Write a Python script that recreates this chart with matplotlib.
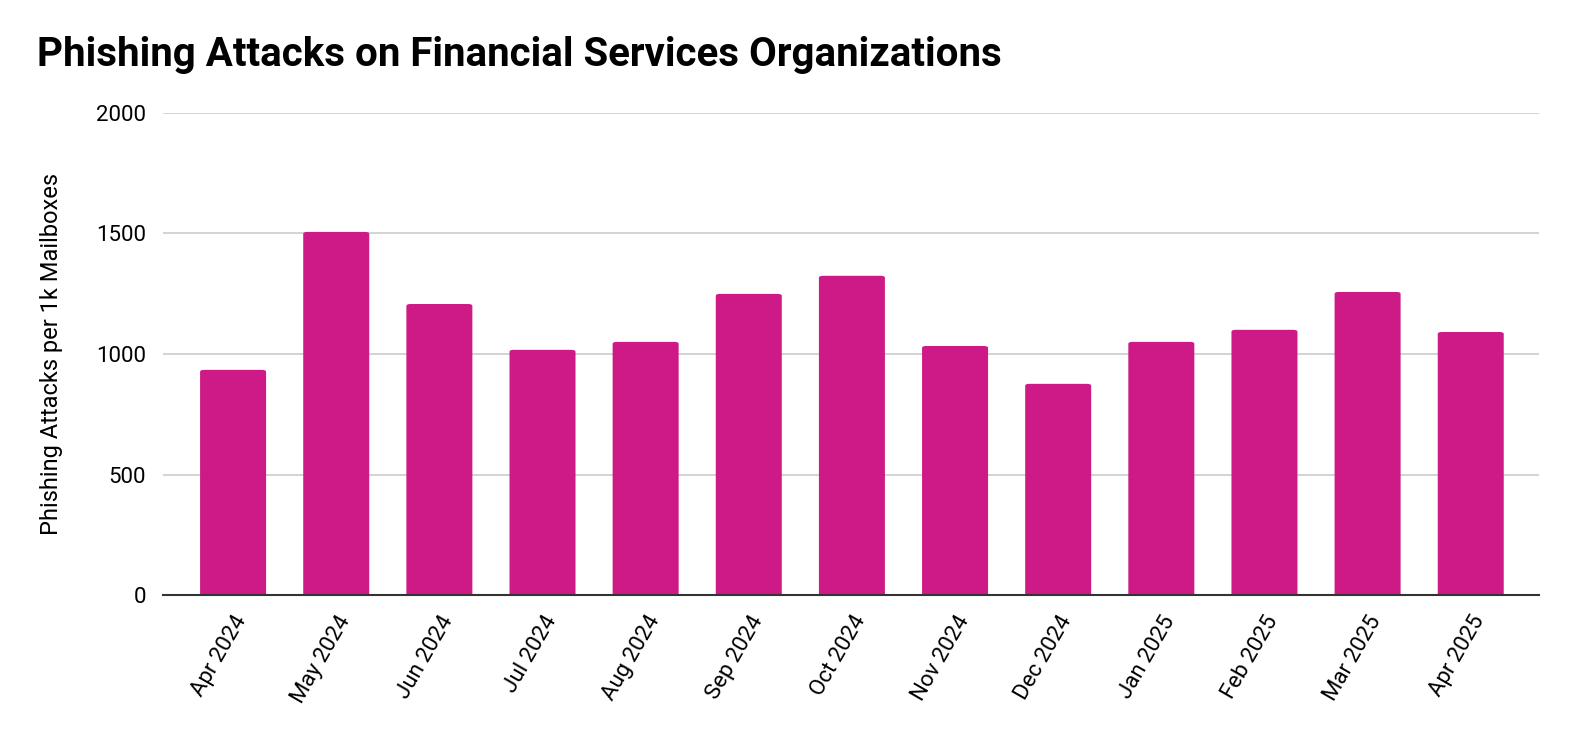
import matplotlib.pyplot as plt
from matplotlib.patches import FancyBboxPatch

# ------------------------------
# Data
# ------------------------------
months = ["Apr 2024", "May 2024", "Jun 2024", "Jul 2024", "Aug 2024", "Sep 2024",
          "Oct 2024", "Nov 2024", "Dec 2024", "Jan 2025", "Feb 2025", "Mar 2025",
          "Apr 2025"]
attacks = [934, 1506, 1207, 1017, 1050, 1249, 1324, 1033, 876, 1050, 1100, 1257, 1091]

BAR_COLOR = "#cd1a87"

plt.rcParams["font.family"] = ["Roboto", "DejaVu Sans"]

# ------------------------------
# Plot
# ------------------------------
fig = plt.figure(figsize=(15.76, 7.42), dpi=100)
ax = fig.add_axes([0.1034, 0.198, 0.873, 0.650])

x = list(range(len(months)))
bars = ax.bar(x, attacks, width=0.64, color=BAR_COLOR, zorder=3)

# slightly rounded tops
for b in bars:
    b.set_visible(False)
    patch = FancyBboxPatch((b.get_x(), -40), b.get_width(), b.get_height() + 40,
                           boxstyle="round,pad=0,rounding_size=0.04",
                           mutation_aspect=200, color=BAR_COLOR, zorder=3,
                           linewidth=0)
    ax.add_patch(patch)

ax.set_xlim(-0.68, len(months) - 1 + 0.66)
ax.set_ylim(0, 2000)
ax.set_yticks([0, 500, 1000, 1500, 2000])
ax.yaxis.grid(True, color="#cccccc", linewidth=1.2, zorder=0)
ax.set_axisbelow(True)

for s in ["top", "right", "left"]:
    ax.spines[s].set_visible(False)
ax.spines["bottom"].set_color("#333333")
ax.spines["bottom"].set_linewidth(1.5)
ax.spines["bottom"].set_zorder(4)

ax.set_xticks(x)
ax.set_xticklabels(months, rotation=60, ha="right", rotation_mode="anchor", fontsize=16)
ax.tick_params(axis="x", length=0, pad=12)
ax.tick_params(axis="y", length=0, pad=12, labelsize=16)

ax.set_ylabel("Phishing Attacks per 1k Mailboxes", fontsize=17, labelpad=24)

fig.text(0.0235, 1 - 55 / 742, "Phishing Attacks on Financial Services Organizations",
         fontsize=29, fontweight="bold", va="center", ha="left")

fig.savefig("out.png", dpi=100, facecolor="white")
